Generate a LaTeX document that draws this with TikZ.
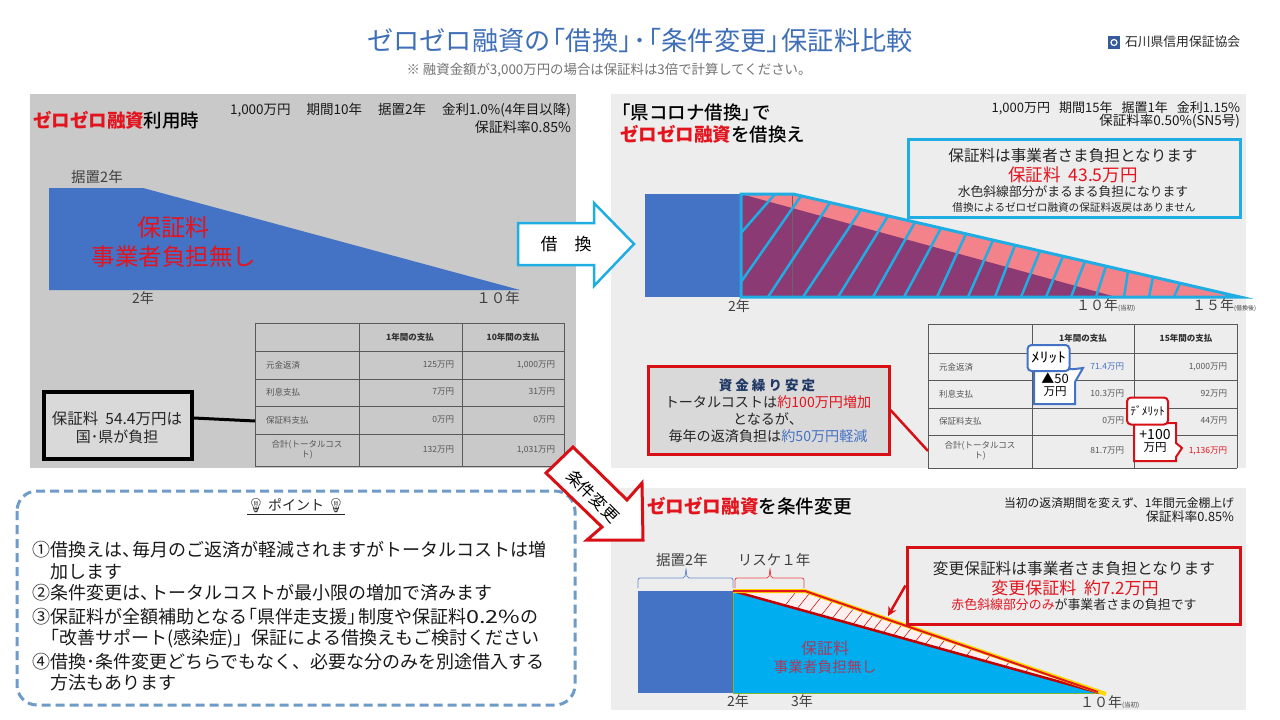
\documentclass[tikz,border=0pt]{standalone}
\usepackage{fontspec}
\setmainfont{Noto Sans CJK JP}
\newfontfamily\medfont{Noto Sans CJK JP Medium}
\newfontfamily\emojifont{Noto Emoji}
\usetikzlibrary{arrows.meta}
\definecolor{titleblue}{HTML}{3F6FB7}
\definecolor{barblue}{HTML}{4472C4}
\definecolor{skyline}{HTML}{1FADE3}
\definecolor{skyfill}{HTML}{00ADEF}
\definecolor{redtxt}{HTML}{E3141E}
\definecolor{boxred}{HTML}{D81015}
\definecolor{darkred}{HTML}{C00000}
\definecolor{pinkfill}{HTML}{F4828A}
\definecolor{plumfill}{HTML}{8B3A73}
\definecolor{panelgray}{HTML}{C9C9C9}
\definecolor{panellight}{HTML}{EDEDED}
\definecolor{boxgray}{HTML}{D9D9D9}
\definecolor{celltxt}{HTML}{555555}
\definecolor{dashblue}{HTML}{6F9BC8}
\definecolor{navytxt}{HTML}{1F3864}
\definecolor{softblue}{HTML}{4472C4}
\definecolor{lowfeetxt}{HTML}{A83A5E}
\newcommand{\fs}[1]{\fontsize{#1}{#1}\selectfont}
\newcommand{\rd}[1]{{\color{redtxt}#1}}
\newcommand{\bl}[1]{{\color{softblue}#1}}
\newcommand{\lb}{\hspace{-0.42em}「}
\newcommand{\rb}{」\hspace{-0.42em}}
\newcommand{\tou}{、\hspace{-0.42em}}
\tikzset{
    txt/.style={inner sep=0pt, outer sep=0pt, align=center},
    ltxt/.style={txt, anchor=west, align=left},
    rtxt/.style={txt, anchor=east, align=right},
    head/.style={txt, font=\fs{8.5}\bfseries, text=black!80},
    cell/.style={rtxt, font=\fs{8.5}, text=celltxt},
    rowname/.style={ltxt, font=\fs{8.5}, text=celltxt},
    sumname/.style={txt, font=\fs{8.5}, text=celltxt},
    grid/.style={draw=black!65, line width=1pt},
    bigbox/.style={draw, line width=3pt, minimum width=#1, inner sep=0pt},
    pop/.style={draw, line width=2pt, fill=white, rounded corners=4pt, inner sep=0pt},
    hatchsky/.style={draw=skyline, line width=2.5pt},
    yearlab/.style={txt, font=\fs{14}, text=black!75}
}
\begin{document}
\begin{tikzpicture}[x=1pt, y=-1pt]
    \useasboundingbox (0,0) rectangle (1280,720);
    \fill[white] (0,0) rectangle (1280,720);
    \node[txt, font=\fs{26.2}, text=titleblue] (title) at (640,41) {ゼロゼロ融資の\lb 借換\rb ･\lb 条件変更\rb 保証料比較};
    \node[txt, font=\fs{13.4}, text=black!55] (note) at (609,70) {※ 融資金額が3,000万円の場合は保証料は3倍で計算してください。};
    \fill[barblue!80!black] (1108,36) rectangle (1120,49);
    \draw[white, line width=1.2pt] (1114,42.5) circle (3pt);
    \node[ltxt, font=\fs{12.8}, text=black!85] (logo) at (1125,42) {石川県信用保証協会};

    \fill[panelgray] (30,94) rectangle (576,468);
    \fill[panellight] (611,94) rectangle (1246,468);
    \fill[panellight] (611,488) rectangle (1246,710);

    \node[ltxt, font=\fs{18.5}\medfont] (lefthead) at (33,120) {\rd{\bfseries ゼロゼロ融資}利用時};
    \node[rtxt, font=\fs{13.5}, text=black!90] (leftcond) at (571,110) {1,000万円\hspace{16pt}期間10年\hspace{16pt}据置2年\hspace{16pt}金利1.0\%(4年目以降)};
    \node[rtxt, font=\fs{14}, text=black!90] (leftrate) at (571,127) {保証料率0.85\%};
    \fill[barblue] (49,188) -- (143,188) -- (520,290) -- (49,290) -- cycle;
    \node[yearlab, font=\fs{14.5}] (lefthold) at (97,177) {据置2年};
    \node[txt, font=\fs{24}, text=redtxt] (leftfee1) at (173,227) {保証料};
    \node[txt, font=\fs{23.5}, text=redtxt] (leftfee2) at (174,257) {事業者負担無し};
    \node[yearlab] (lefty2) at (143,298) {2年};
    \node[yearlab, font=\fs{14.5}] (lefty10) at (498,298) {１０年};

    \foreach \x in {255,359,462,564}
        \draw[grid] (\x,323) -- (\x,467);
    \foreach \y in {323,351,379,406,434,466}
        \draw[grid] (255,\y) -- (564,\y);
    \node[head] (lh1) at (410,337) {1年間の支払};
    \node[head] (lh2) at (513,337) {10年間の支払};
    \foreach \n/\y/\t/\a/\b in {1/365/元金返済/125万円/{1,000万円}, 2/392/利息支払/7万円/31万円, 3/420/保証料支払/0万円/0万円}{
        \node[rowname] (lr\n) at (266,\y) {\t};
        \node[cell] (la\n) at (454,\y) {\a};
        \node[cell] (lb\n) at (555,\y) {\b};
    }
    \node[sumname] (lr4) at (307,450) {合計(トータルコス\\ト)};
    \node[cell] (la4) at (454,450) {132万円};
    \node[cell] (lb4) at (555,450) {1,031万円};

    \node[bigbox=148pt, minimum height=67pt, draw=black, line width=3.5pt, fill=boxgray] (leftbox) at (118,425.5) {};
    \node[txt, font=\fs{15.5}, text=black!85] (leftbox1) at (117,419) {保証料\ \ 54.4万円は};
    \node[txt, font=\fs{15}, text=black!85] (leftbox2) at (117,437) {国･県が負担};
    \coordinate (lefttable) at (255,421);
    \draw[black, line width=3pt] (leftbox.east |- 0,418) -- (lefttable);

    \draw[skyline, line width=2.5pt, fill=white] (518,223) -- (594,223) -- (594,203) -- (634,244) -- (594,286) -- (594,265) -- (518,265) -- cycle;
    \node[txt, font=\fs{17}] (swapword) at (566,244) {借　換};

    \node[ltxt, font=\fs{18.5}\medfont] (righthead1) at (620,112) {\lb 県コロナ借換\rb で};
    \node[ltxt, font=\fs{18.5}\medfont] (righthead2) at (620,134) {\rd{\bfseries ゼロゼロ融資}を借換え};
    \node[rtxt, font=\fs{13}, text=black!90] (rightcond) at (1240,108) {1,000万円\hspace{9pt}期間15年\hspace{9pt}据置1年\hspace{9pt}金利1.15\%};
    \node[rtxt, font=\fs{13.5}, text=black!90] (rightrate) at (1240,121) {保証料率0.50\%(SN5号)};

    \fill[barblue] (645,194) rectangle (741,297);
    \fill[pinkfill] (741,194) -- (793,194) -- (1240,297) -- (741,297) -- cycle;
    \fill[plumfill] (741,194) -- (1116,297) -- (741,297) -- cycle;
    \draw[black!60, line width=0.6pt] (792,194) -- (792,297);
    \draw[hatchsky] (741,233) -- (775,194);
    \draw[hatchsky] (741,282) -- (801,196);
    \foreach \b/\t in {768/830,803/861,838/888,873/915,904/941,937/966,968/993,995/1015,1021/1040,1046/1063,1071/1085,1096/1106,1124/1128,1149/1153,1174/1180}
        \draw[hatchsky] (\b,297) -- (\t,{194+(\t-793)*0.2304});
    \draw[skyline, line width=3pt, line join=miter] (741,194) -- (793,194) -- (1240,297) -- (741,297) -- cycle;

    \node[bigbox=332pt, minimum height=78pt, draw=skyline, fill=panellight] (feebox) at (1074,178) {};
    \node[txt, font=\fs{15.6}, text=black!85] (feebox1) at (1073,156) {保証料は事業者さま負担となります};
    \node[txt, font=\fs{17.5}, text=redtxt] (feebox2) at (1073,175) {保証料\ \ 43.5万円};
    \node[txt, font=\fs{12.8}, text=black!85] (feebox3) at (1073,192) {水色斜線部分がまるまる負担になります};
    \node[txt, font=\fs{10.6}, text=black!85] (feebox4) at (1074,207) {借換によるゼロゼロ融資の保証料返戻はありません};
    \node[yearlab] (righty2) at (739,306) {2年};
    \node[ltxt, text=black!75, font=\fs{14}] (righty10) at (1076,305) {１０年{\fs{6.5}(当初)}};
    \node[ltxt, text=black!75, font=\fs{14}] (righty15) at (1192,305) {１５年{\fs{6}(借換後)}};

    \foreach \x in {928,1032,1134,1237}
        \draw[grid] (\x,324) -- (\x,468);
    \foreach \y in {324,353,380,408,435,468}
        \draw[grid] (928,\y) -- (1237,\y);
    \node[head] (rh1) at (1083,338) {1年間の支払};
    \node[head] (rh2) at (1186,338) {15年間の支払};
    \foreach \n/\y/\t/\a/\b in {1/367/元金返済/\bl{71.4万円}/{1,000万円}, 2/394/利息支払/10.3万円/92万円, 3/421/保証料支払/0万円/44万円}{
        \node[rowname] (rr\n) at (939,\y) {\t};
        \node[cell] (ra\n) at (1124,\y) {\a};
        \node[cell] (rb\n) at (1227,\y) {\b};
    }
    \node[sumname] (rr4) at (980,451) {合計(トータルコス\\ト)};
    \node[cell] (ra4) at (1124,451) {81.7万円};
    \node[cell, text=redtxt] (rb4) at (1227,451) {1,136万円};

    \node[bigbox=241pt, minimum height=88pt, draw=boxred, fill=boxgray] (payback) at (768.5,410) {};
    \node[txt, font=\fs{13.5}\bfseries, text=navytxt] (payback1) at (767,385) {資 金 繰 り 安 定};
    \node[txt, font=\fs{14.1}, text=black!85] (payback2) at (768,402) {トータルコストは\rd{約100万円増加}};
    \node[txt, font=\fs{14.1}, text=black!85] (payback3) at (768,419) {となるが、};
    \node[txt, font=\fs{14.1}, text=black!85] (payback4) at (768,436) {毎年の返済負担は\bl{約50万円軽減}};
    \coordinate (paytable) at (928,451);
    \draw[boxred, line width=2.5pt] (payback.east) -- (paytable);

    \draw[barblue, line width=2pt, fill=white, line join=miter] (1034,369) -- (1075,369) -- (1083,368) -- (1075,382) -- (1075,404) -- (1034,404) -- cycle;
    \node[txt, font=\fs{13}] (meritval) at (1055,378) {▲50};
    \node[txt, font=\fs{11.5}] (meritunit) at (1055,392) {万円};
    \node[pop, draw=barblue, minimum width=42pt, minimum height=26pt, font=\fs{14}] (meritbox) at (1048.5,358) {\scalebox{1.25}[1]{ﾒﾘｯﾄ}};

    \draw[boxred, line width=2pt, fill=white, line join=miter] (1134,423) -- (1176,423) -- (1176,443) -- (1182,448) -- (1176,457) -- (1176,461) -- (1134,461) -- cycle;
    \node[txt, font=\fs{14}] (demeritval) at (1155,435) {+100};
    \node[txt, font=\fs{11.5}] (demeritunit) at (1155,448) {万円};
    \node[pop, draw=boxred, minimum width=41pt, minimum height=27pt, font=\fs{11.5}] (demeritbox) at (1147.5,411) {ﾃﾞﾒﾘｯﾄ};

    \draw[dashblue, line width=3pt, dashed, dash pattern=on 9pt off 5pt, rounded corners=20pt, fill=white] (17,491) rectangle (575,705);
    \node[txt, font=\fs{14}, text=black!85] (pointhead) at (296,507) {\underline{{\emojifont 💡} ポイント {\emojifont 💡}}};
    \foreach \n/\x/\y/\t in {1/32/550/①借換えは\tou 毎月のご返済が軽減されますがトータルコストは増, 2/50/572/加します, 3/32/593/②条件変更は\tou トータルコストが最小限の増加で済みます, 4/32/617/③保証料が全額補助となる\lb 県伴走支援\rb 制度や保証料\scalebox{1.3}[1]{0.2\%}の, 5/49/639/\lb 改善サポート(感染症)」保証による借換えもご検討ください, 6/32/662/④借換･条件変更どちらでもなく、必要な分のみを別途借入する, 7/50/683/方法もあります}
        \node[ltxt, font=\fs{18}, text=black!90] (pointline\n) at (\x,\y) {\t};

    \draw[boxred, line width=3pt, fill=white, line join=miter] (573,447) -- (627,500) -- (642,483) -- (643,540) -- (587,540) -- (602,527) -- (546,473) -- cycle;
    \node[txt, font=\fs{16.5}, rotate=-45] (changeword) at (593,496) {条件変更};

    \node[ltxt, font=\fs{18.6}\medfont] (lowhead) at (647,506) {\rd{\bfseries ゼロゼロ融資}を条件変更};
    \node[rtxt, font=\fs{11.8}, text=black!90] (lowcond) at (1234,503) {当初の返済期間を変えず、1年間元金棚上げ};
    \node[rtxt, font=\fs{12.8}, text=black!90] (lowrate) at (1234,517) {保証料率0.85\%};

    \fill[barblue] (638,591) rectangle (733,693);
    \fill[skyfill] (733,591) -- (1100,693) -- (733,693) -- cycle;
    \fill[red!6] (733,591) -- (805,591) -- (1100,693) -- cycle;
    \begin{scope}
        \clip (733,591) -- (805,591) -- (1100,693) -- cycle;
        \foreach \x in {785,797,809,821,832,843,853,863,873,883,893,903,915,925,938,950,966,985,1005,1025}{
            \pgfmathsetmacro{\yl}{591+(\x-733)*0.2802}
            \draw[darkred, line width=0.5pt] (\x-2,\yl+2.5) -- (\x+20,\yl-25);
        }
    \end{scope}
    \draw[yellow!70!black!60!green, line width=1pt] (733,591) -- (733,693) -- (1100,693);
    \draw[darkred, line width=2.5pt] (733,591) -- (1100,693);
    \draw[orange!30!yellow, line width=4pt, line join=round] (733,591) -- (805,591) -- (1106,694);
    \draw[redtxt, line width=2pt, line join=round] (733,591) -- (805,591) -- (1098,692);

    \draw[barblue!80, line width=0.8pt, rounded corners=2pt] (638,588) -- (638,578) -- (685,578) -- (686,568) -- (687,578) -- (733,578) -- (733,588);
    \draw[redtxt!80, line width=0.8pt, rounded corners=2pt] (735,588) -- (735,578) -- (769,578) -- (770,568) -- (771,578) -- (804,578) -- (804,588);
    \node[yearlab, font=\fs{14.5}] (lowhold) at (682,560) {据置2年};
    \node[yearlab, font=\fs{14.5}] (lowresc) at (774,560) {リスケ１年};
    \node[txt, font=\fs{16}, text=lowfeetxt] (lowfee1) at (825,648) {保証料};
    \node[txt, font=\fs{14.7}, text=lowfeetxt] (lowfee2) at (825,667) {事業者負担無し};
    \node[yearlab] (lowy2) at (738,701) {2年};
    \node[yearlab] (lowy3) at (802,701) {3年};
    \node[ltxt, text=black!75, font=\fs{14}] (lowy10) at (1080,702) {１０年{\fs{6.5}(当初)}};

    \node[bigbox=333pt, minimum height=77pt, draw=boxred, fill=panellight] (chgbox) at (1073.5,585.5) {};
    \node[txt, font=\fs{15.7}, text=black!85] (chgbox1) at (1074,569) {変更保証料は事業者さま負担となります};
    \node[txt, font=\fs{17}, text=redtxt] (chgbox2) at (1075,588) {変更保証料\ \ 約7.2万円};
    \node[txt, font=\fs{12.9}, text=black!85] (chgbox3) at (1074,605) {\rd{赤色斜線部分のみ}が事業者さまの負担です};
    \coordinate (chgtip) at (888,616);
    \draw[boxred, line width=2.5pt, -{Stealth[length=9pt, width=9pt]}] (chgbox.west) -- (chgtip);
\end{tikzpicture}
\end{document}
